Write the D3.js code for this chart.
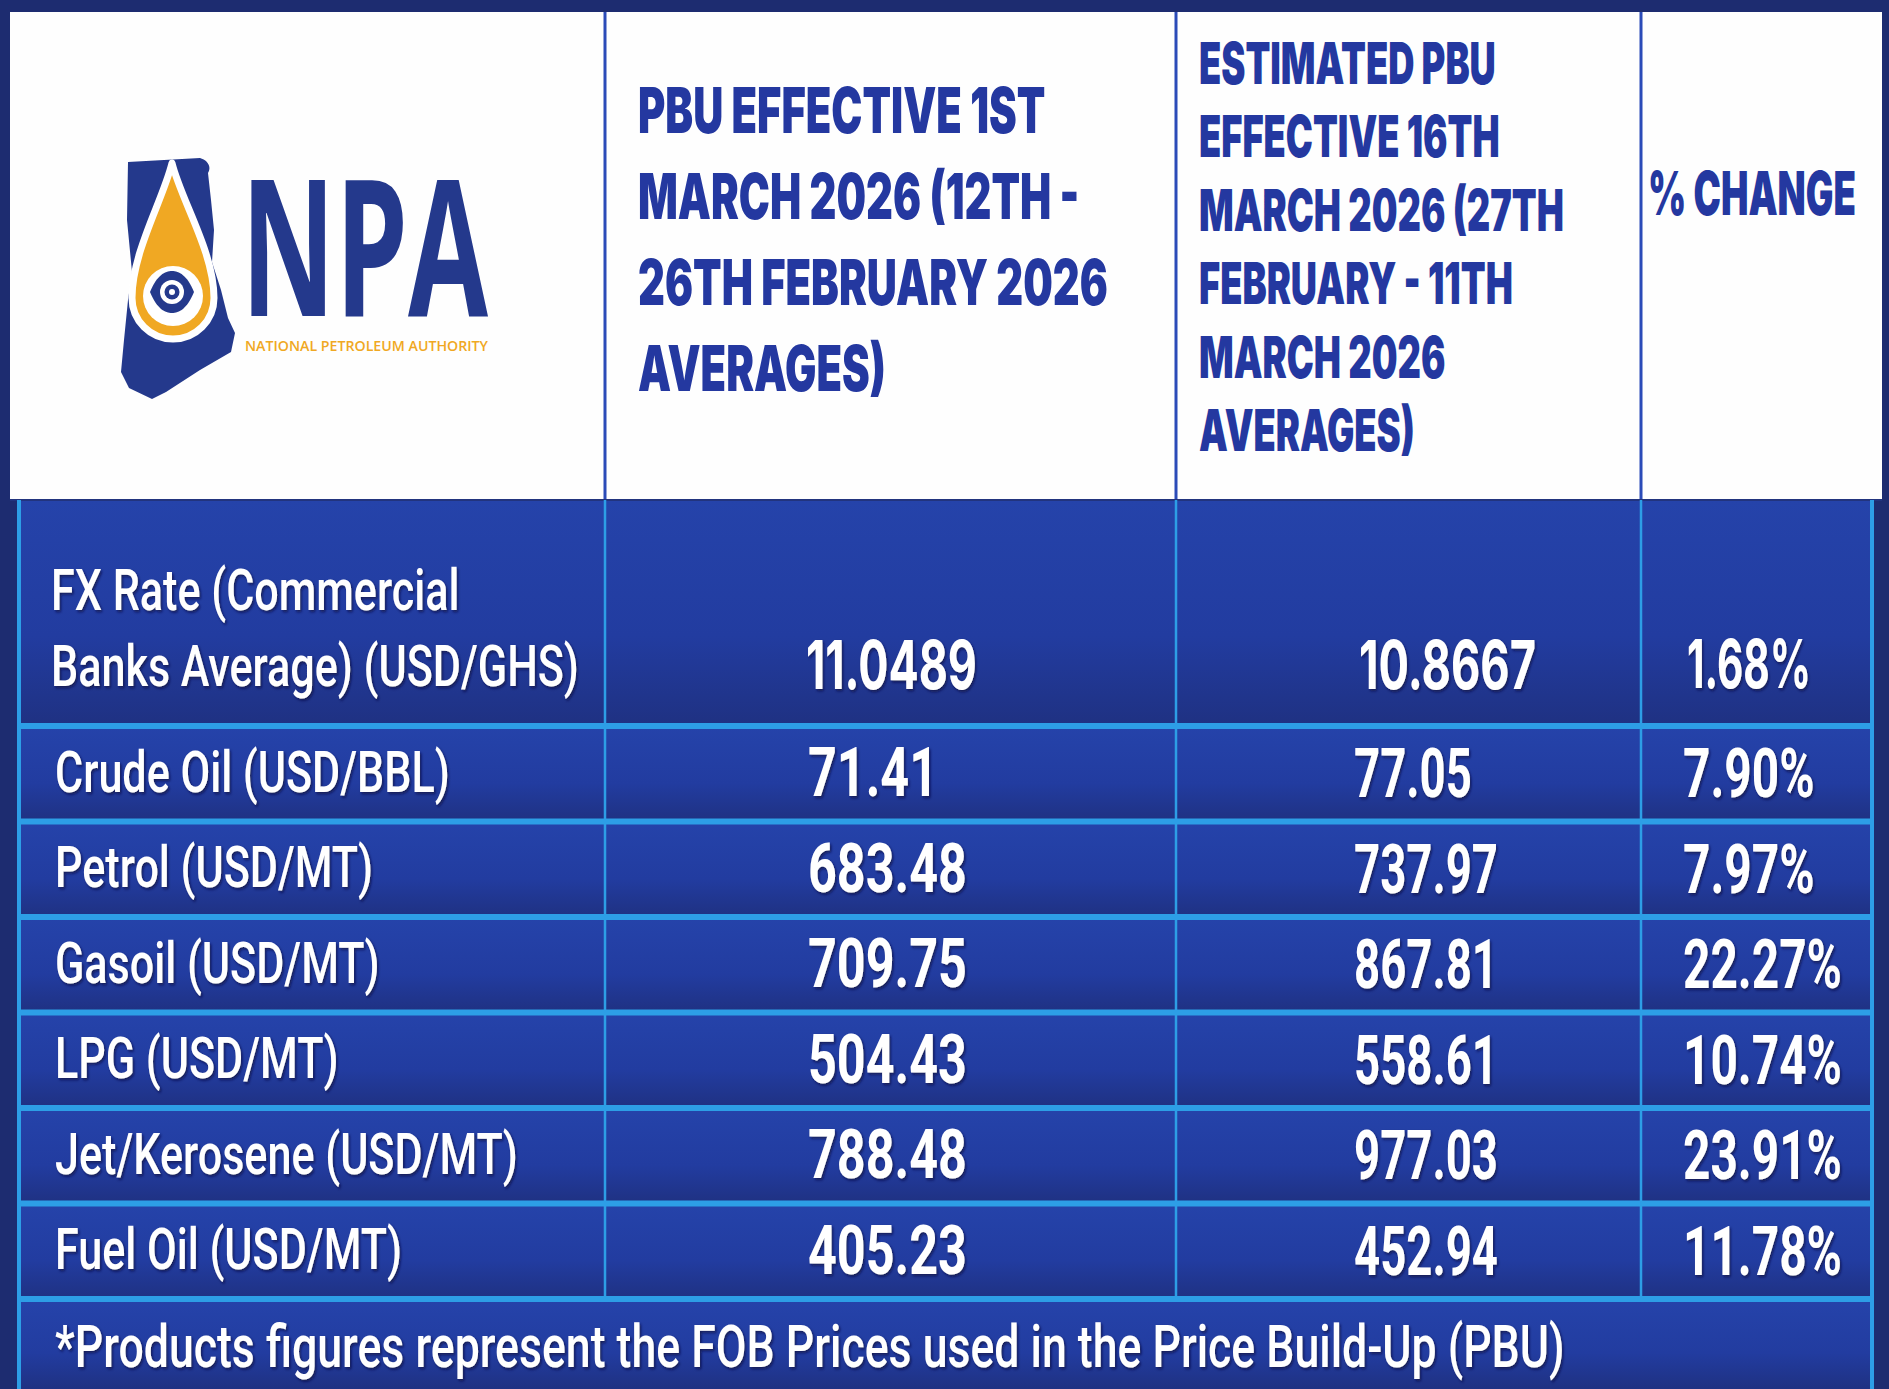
<!DOCTYPE html>
<html>
<head>
<meta charset="utf-8">
<script src="https://cdn.jsdelivr.net/npm/d3@7/dist/d3.min.js"></script>
<style>
  html, body { margin: 0; padding: 0; background: #1d2c70; }
  svg { display: block; }
</style>
</head>
<body>
<svg id="chart" width="1889" height="1389"></svg>
<script>
// ---------------- DATA ----------------
const columnKeys = ["product", "pbuMar1", "pbuMar16", "change"];
const headerPbuMar1 = ["PBU EFFECTIVE 1ST", "MARCH 2026 (12TH -", "26TH FEBRUARY 2026", "AVERAGES)"];
const headerPbuMar16 = ["ESTIMATED PBU", "EFFECTIVE 16TH", "MARCH 2026 (27TH", "FEBRUARY - 11TH", "MARCH 2026", "AVERAGES)"];
const headerChange = ["% CHANGE"];
const fxLabel = ["FX Rate (Commercial", "Banks Average) (USD/GHS)"];
const fxPbuMar1 = 11.0489;
const fxPbuMar16 = 10.8667;
const fxChange = 1.68;
const products = ["Crude Oil (USD/BBL)", "Petrol (USD/MT)", "Gasoil (USD/MT)", "LPG (USD/MT)", "Jet/Kerosene (USD/MT)", "Fuel Oil (USD/MT)"];
const pbuMar1 = [71.41, 683.48, 709.75, 504.43, 788.48, 405.23];
const pbuMar16 = [77.05, 737.97, 867.81, 558.61, 977.03, 452.94];
const pctChange = [7.90, 7.97, 22.27, 10.74, 23.91, 11.78];
const footnote = "*Products figures represent the FOB Prices used in the Price Build-Up (PBU)";
const logoWord = "NPA";
const logoSub = "NATIONAL PETROLEUM AUTHORITY";

// ---------------- LAYOUT ----------------
const W = 1889, H = 1389;
const svg = d3.select("#chart");
const defs = svg.append("defs");

const xCol = d3.scaleOrdinal().domain(columnKeys.concat(["end"])).range([19, 605, 1176, 1641, 1872]);
const headerTop = 12, headerBottom = 500, fxBottom = 726, tableBottom = 1299;
const yRow = d3.scaleBand().domain(products).range([fxBottom, tableBottom]).paddingInner(0);

const NAVY = "#1d2c70";
const HEAD_BLUE = "#2438a0";
const LINE_BLUE = "#2d9ee6";
const WHITE = "#ffffff";

// gradients & filters
const grad = defs.append("linearGradient").attr("id", "rowGrad").attr("x1", 0).attr("y1", 0).attr("x2", 0).attr("y2", 1);
grad.append("stop").attr("offset", "0%").attr("stop-color", "#2543aa");
grad.append("stop").attr("offset", "60%").attr("stop-color", "#223ca0");
grad.append("stop").attr("offset", "100%").attr("stop-color", "#1f3182");
const sh = defs.append("filter").attr("id", "shadow").attr("x", "-10%").attr("y", "-20%").attr("width", "130%").attr("height", "150%");
sh.append("feDropShadow").attr("dx", 2).attr("dy", 2).attr("stdDeviation", 1.5).attr("flood-color", "#0a1240").attr("flood-opacity", 0.75);

// background
svg.append("rect").attr("x", 0).attr("y", 0).attr("width", W).attr("height", H).attr("fill", NAVY);

// header white panel
svg.append("rect").attr("x", 10).attr("y", headerTop).attr("width", 1872).attr("height", headerBottom - headerTop).attr("fill", "#fefefe");

// body rows backgrounds
const bodyX0 = xCol("product"), bodyX1 = xCol("end");
const rowBands = [[headerBottom, fxBottom]].concat(products.map(p => [yRow(p), yRow(p) + yRow.bandwidth()])).concat([[tableBottom, H]]);
svg.append("g").selectAll("rect").data(rowBands).join("rect")
  .attr("x", bodyX0).attr("y", d => d[0]).attr("width", bodyX1 - bodyX0).attr("height", d => d[1] - d[0])
  .attr("fill", "url(#rowGrad)");

// header vertical lines
svg.append("g").selectAll("line").data(columnKeys.slice(1)).join("line")
  .attr("x1", d => xCol(d)).attr("x2", d => xCol(d)).attr("y1", headerTop).attr("y2", headerBottom)
  .attr("stroke", "#2b4bb8").attr("stroke-width", 3);
svg.append("line").attr("x1", 10).attr("x2", 1882).attr("y1", headerBottom).attr("y2", headerBottom)
  .attr("stroke", "#22347e").attr("stroke-width", 2);

// body vertical lines
svg.append("g").selectAll("line").data(columnKeys.slice(1)).join("line")
  .attr("x1", d => xCol(d)).attr("x2", d => xCol(d)).attr("y1", headerBottom).attr("y2", tableBottom)
  .attr("stroke", LINE_BLUE).attr("stroke-width", 2.5);
svg.append("g").selectAll("line").data(["product", "end"]).join("line")
  .attr("x1", d => xCol(d)).attr("x2", d => xCol(d)).attr("y1", headerBottom).attr("y2", H)
  .attr("stroke", LINE_BLUE).attr("stroke-width", 4);
// horizontal separators
const sepYs = [fxBottom].concat(products.slice(1).map(p => yRow(p))).concat([tableBottom]);
svg.append("g").selectAll("line").data(sepYs).join("line")
  .attr("x1", bodyX0).attr("x2", bodyX1).attr("y1", d => d).attr("y2", d => d)
  .attr("stroke", LINE_BLUE).attr("stroke-width", 6);

// ---------------- TEXT HELPERS ----------------
function textGroup(lines, opts) {
  const g = svg.append("g");
  const t = g.selectAll("text").data(lines).join("text")
    .text(d => d.text)
    .attr("font-family", opts.family)
    .attr("font-weight", opts.weight)
    .attr("font-size", opts.size)
    .attr("fill", opts.fill)
    .attr("text-anchor", opts.anchor || "start")
    .attr("dominant-baseline", "central")
    .attr("filter", opts.filter || null);
  let sx = 1;
  if (opts.refIndex != null) {
    const nat = t.nodes()[opts.refIndex].getComputedTextLength();
    sx = opts.refWidth / nat;
  }
  t.attr("transform", d => `translate(${d.x},${d.y}) scale(${sx},1)`);
  return t;
}

// ---------------- HEADER TEXT ----------------
const hFont = "Inter, 'DejaVu Sans', sans-serif";
textGroup(headerPbuMar1.map((s, i) => ({ text: s, x: 638, y: 110 + i * 86 })),
  { family: hFont, weight: 900, size: 63, fill: HEAD_BLUE, refIndex: 2, refWidth: 470 });
textGroup(headerPbuMar16.map((s, i) => ({ text: s, x: 1199, y: 63 + i * 73.4 })),
  { family: hFont, weight: 900, size: 58, fill: HEAD_BLUE, refIndex: 2, refWidth: 365 });
textGroup(headerChange.map((s) => ({ text: s, x: 1648, y: 193 })),
  { family: hFont, weight: 900, size: 61, fill: HEAD_BLUE, refIndex: 0, refWidth: 208 });

// ---------------- BODY TEXT ----------------
const lFont = "Roboto, 'Liberation Sans', sans-serif";
const labelLines = [
  { text: fxLabel[0], x: 51, y: 590 },
  { text: fxLabel[1], x: 51, y: 666 }
].concat(products.map(p => ({ text: p, x: 55, y: yRow(p) + yRow.bandwidth() / 2 - 2 })));
textGroup(labelLines, { family: lFont, weight: 500, size: 58, fill: WHITE, refIndex: 1, refWidth: 528, filter: "url(#shadow)" });

const f2 = d3.format(".2f"), f4 = d3.format(".4f");
const vFont = "Roboto, 'Liberation Sans', sans-serif";
// values are left-aligned inside their columns
const valX = { pbuMar1: xCol("pbuMar1") + 203, pbuMar16: xCol("pbuMar16") + 178, change: xCol("change") + 42 };

const gFont = "Inter, 'DejaVu Sans', sans-serif";
textGroup([{ text: f4(fxPbuMar1), x: valX.pbuMar1 - 2, y: 664 }], { family: gFont, weight: 700, size: 68, fill: WHITE, refIndex: 0, refWidth: 171, filter: "url(#shadow)" });
textGroup([{ text: f4(fxPbuMar16), x: valX.pbuMar16 + 5, y: 664 }], { family: gFont, weight: 700, size: 68, fill: WHITE, refIndex: 0, refWidth: 177, filter: "url(#shadow)" });
textGroup([{ text: f2(fxChange) + "%", x: valX.change + 4, y: 664 }], { family: gFont, weight: 700, size: 68, fill: WHITE, refIndex: 0, refWidth: 124, filter: "url(#shadow)" });

const rowY = p => yRow(p) + yRow.bandwidth() / 2;
textGroup(products.map((p, i) => ({ text: f2(pbuMar1[i]), x: valX.pbuMar1, y: rowY(p) })),
  { family: vFont, weight: 700, size: 68, fill: WHITE, refIndex: 1, refWidth: 159, filter: "url(#shadow)" });
textGroup(products.map((p, i) => ({ text: f2(pbuMar16[i]), x: valX.pbuMar16, y: rowY(p) })),
  { family: vFont, weight: 700, size: 68, fill: WHITE, refIndex: 1, refWidth: 144, filter: "url(#shadow)" });
textGroup(products.map((p, i) => ({ text: f2(pctChange[i]) + "%", x: valX.change, y: rowY(p) })),
  { family: vFont, weight: 700, size: 68, fill: WHITE, refIndex: 2, refWidth: 159, filter: "url(#shadow)" });

// footnote
textGroup([{ text: footnote, x: 55, y: 1347 }], { family: lFont, weight: 500, size: 60, fill: WHITE, refIndex: 0, refWidth: 1510, filter: "url(#shadow)" });

// ---------------- LOGO ----------------
const logo = svg.append("g");
const LOGO_NAVY = "#24398c", LOGO_ORANGE = "#f0a823";
logo.append("path")
  .attr("d", "M128,162 L200,158 C207,160 212,166 208,173 L211,200 L214,230 L212,262 L221,290 L228,318 L235,333 L231,352 L200,370 L166,392 L152,399 L129,388 L121,372 L124,340 L128,300 L132,272 L127,220 Z")
  .attr("fill", LOGO_NAVY);
const drop = "M172,163 C181,200 214,252 214,298 A41,41 0 1 1 132,298 C132,252 163,200 172,163 Z";
logo.append("path").attr("d", drop).attr("fill", LOGO_ORANGE).attr("stroke", WHITE).attr("stroke-width", 7).attr("stroke-linejoin", "round");
logo.append("circle").attr("cx", 173).attr("cy", 296).attr("r", 30).attr("fill", WHITE);
logo.append("path").attr("d", "M150,292 C157,275 165,271 172,271 C179,271 187,275 194,292 C187,309 179,313 172,313 C165,313 157,309 150,292 Z").attr("fill", LOGO_NAVY);
logo.append("circle").attr("cx", 172).attr("cy", 292).attr("r", 12).attr("fill", WHITE);
logo.append("circle").attr("cx", 172).attr("cy", 292).attr("r", 7.5).attr("fill", LOGO_NAVY);
logo.append("circle").attr("cx", 172).attr("cy", 292).attr("r", 3).attr("fill", WHITE);
// wordmark and tagline share one text element (two tspans)
const word = logo.append("text")
  .attr("font-family", "'Open Sans', Inter, sans-serif");
word.append("tspan").text(logoWord)
  .attr("x", 241).attr("y", 316)
  .attr("font-weight", 700).attr("font-size", 190)
  .attr("fill", LOGO_NAVY)
  .attr("textLength", 247).attr("lengthAdjust", "spacingAndGlyphs");
word.append("tspan").text(logoSub)
  .attr("x", 245).attr("y", 351)
  .attr("font-weight", 600).attr("font-size", 14)
  .attr("fill", LOGO_ORANGE)
  .attr("textLength", 243).attr("lengthAdjust", "spacingAndGlyphs");
</script>
</body>
</html>
